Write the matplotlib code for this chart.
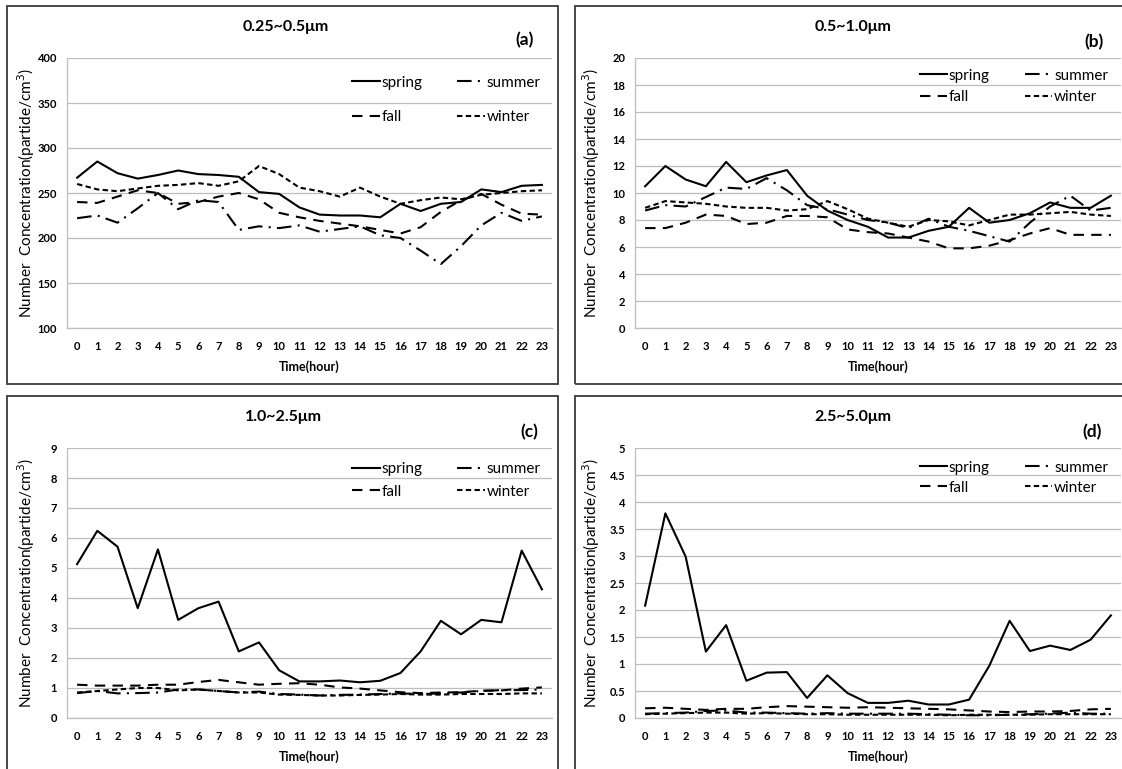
"""Diurnal number concentration by season, four particle size bins."""
import matplotlib
matplotlib.use('Agg')
import matplotlib.pyplot as plt
from matplotlib.patches import Rectangle

plt.rcParams['font.family'] = ['Lato', 'DejaVu Sans']

W, H = 1122, 769

hours = list(range(24))
seasons = ["spring", "summer", "fall", "winter"]

# (a) 0.25~0.5um
a_spring = [267, 285, 272, 266, 270, 275, 271, 270, 268, 251, 249, 234, 226, 225, 225, 223, 238, 230, 238, 240, 254, 251, 258, 259]
a_summer = [222, 225, 217, 233, 250, 232, 242, 240, 209, 213, 211, 214, 207, 210, 213, 203, 200, 186, 171, 191, 214, 228, 219, 224]
a_fall = [240, 239, 246, 253, 250, 238, 240, 246, 250, 243, 228, 223, 219, 216, 213, 209, 205, 212, 229, 242, 249, 237, 227, 226]
a_winter = [260, 254, 252, 255, 258, 259, 261, 258, 263, 280, 271, 256, 252, 246, 256, 246, 238, 242, 245, 243, 248, 250, 252, 253]

# (b) 0.5~1.0um
b_spring = [10.5, 12.0, 11.0, 10.5, 12.3, 10.8, 11.3, 11.7, 9.8, 8.7, 8.0, 7.5, 6.7, 6.7, 7.2, 7.5, 8.9, 7.8, 8.0, 8.5, 9.3, 8.9, 8.9, 9.8]
b_summer = [8.7, 9.1, 9.0, 9.7, 10.4, 10.3, 11.1, 10.2, 9.1, 8.8, 8.4, 8.0, 7.8, 7.4, 8.1, 7.5, 7.2, 6.8, 6.4, 7.8, 9.0, 9.8, 8.7, 8.9]
b_fall = [7.4, 7.4, 7.8, 8.4, 8.3, 7.7, 7.8, 8.3, 8.3, 8.2, 7.3, 7.1, 7.0, 6.7, 6.4, 5.9, 5.9, 6.1, 6.5, 7.0, 7.4, 6.9, 6.9, 6.9]
b_winter = [8.9, 9.4, 9.3, 9.2, 9.0, 8.9, 8.9, 8.7, 8.8, 9.4, 8.8, 8.1, 7.8, 7.5, 8.0, 7.9, 7.6, 8.0, 8.4, 8.4, 8.5, 8.6, 8.4, 8.3]

# (c) 1.0~2.5um
c_spring = [5.13, 6.24, 5.71, 3.66, 5.62, 3.27, 3.66, 3.88, 2.22, 2.52, 1.59, 1.22, 1.22, 1.25, 1.19, 1.24, 1.50, 2.22, 3.24, 2.79, 3.27, 3.19, 5.58, 4.29]
c_summer = [0.83, 0.90, 0.82, 0.83, 0.85, 0.95, 0.95, 0.90, 0.85, 0.88, 0.80, 0.78, 0.75, 0.77, 0.78, 0.80, 0.82, 0.80, 0.82, 0.85, 0.90, 0.93, 0.93, 0.95]
c_fall = [1.11, 1.08, 1.08, 1.08, 1.11, 1.11, 1.20, 1.27, 1.19, 1.11, 1.14, 1.16, 1.11, 1.02, 0.98, 0.92, 0.86, 0.83, 0.85, 0.86, 0.91, 0.92, 0.98, 1.02]
c_winter = [0.85, 0.90, 0.95, 1.00, 1.00, 0.92, 0.95, 0.90, 0.85, 0.85, 0.78, 0.77, 0.75, 0.75, 0.77, 0.78, 0.80, 0.78, 0.78, 0.80, 0.80, 0.80, 0.82, 0.82]

# (d) 2.5~5.0um
d_spring = [2.08, 3.79, 2.99, 1.23, 1.72, 0.69, 0.84, 0.85, 0.37, 0.79, 0.46, 0.28, 0.28, 0.32, 0.25, 0.25, 0.34, 0.97, 1.80, 1.24, 1.34, 1.26, 1.45, 1.90]
d_summer = [0.08, 0.09, 0.10, 0.13, 0.14, 0.10, 0.10, 0.09, 0.08, 0.09, 0.08, 0.08, 0.08, 0.08, 0.07, 0.06, 0.05, 0.05, 0.06, 0.07, 0.08, 0.10, 0.08, 0.08]
d_fall = [0.18, 0.19, 0.17, 0.15, 0.17, 0.17, 0.20, 0.22, 0.21, 0.20, 0.19, 0.20, 0.19, 0.18, 0.17, 0.16, 0.14, 0.12, 0.11, 0.12, 0.12, 0.13, 0.16, 0.17]
d_winter = [0.07, 0.08, 0.09, 0.10, 0.10, 0.08, 0.09, 0.08, 0.07, 0.07, 0.06, 0.06, 0.06, 0.06, 0.06, 0.05, 0.06, 0.06, 0.06, 0.06, 0.07, 0.07, 0.07, 0.07]

titles = ["0.25~0.5μm", "0.5~1.0μm", "1.0~2.5μm", "2.5~5.0μm"]
tags = ["(a)", "(b)", "(c)", "(d)"]
yticks = [
    [100, 150, 200, 250, 300, 350, 400],
    [0, 2, 4, 6, 8, 10, 12, 14, 16, 18, 20],
    [0, 1, 2, 3, 4, 5, 6, 7, 8, 9],
    [0, 0.5, 1, 1.5, 2, 2.5, 3, 3.5, 4, 4.5, 5],
]
data = [
    [a_spring, a_summer, a_fall, a_winter],
    [b_spring, b_summer, b_fall, b_winter],
    [c_spring, c_summer, c_fall, c_winter],
    [d_spring, d_summer, d_fall, d_winter],
]

styles = ["-", (0, (7, 3, 1, 3)), (0, (5, 3.5)), (0, (2.6, 1.6))]


def box(l, t, r, b):
    return [l / W, 1 - b / H, (r - l) / W, (b - t) / H]


# pixel layout: plot areas, outer frames, title/tag positions
axes_px = [(67, 58, 552, 328), (635, 58, 1121, 328), (67, 448, 552, 718), (635, 448, 1121, 718)]
frames_px = [(7, 6, 558, 384), (575, 6, 1130, 384), (7, 396, 558, 780), (575, 396, 1130, 780)]
title_px = [(286, 27), (853, 27), (283, 417), (853, 417)]
tag_px = [(525, 40), (1094, 42), (529, 432), (1092, 432)]
legend_pos = [(0.588, 0.935, 1.35), (0.586, 0.96, 0.5), (0.588, 0.947, 0.55), (0.586, 0.953, 0.4)]
ylabel_x = [37, 602, 37, 602]

fig = plt.figure(figsize=(W / 100, H / 100), dpi=100)

for i in range(4):
    l, t, r, b = frames_px[i]
    fig.patches.append(Rectangle((l / W, 1 - b / H), (r - l) / W, (b - t) / H,
                                 transform=fig.transFigure, fill=False,
                                 edgecolor="#3a3a3a", lw=1.3))

    ax = fig.add_axes(box(*axes_px[i]))
    lines = []
    for j, name in enumerate(seasons):
        ln, = ax.plot(hours, data[i][j], color="black", lw=1.5, ls=styles[j], label=name)
        lines.append(ln)

    ax.set_xlim(-0.5, 23.5)
    ax.set_ylim(yticks[i][0], yticks[i][-1])
    ax.set_yticks(yticks[i])
    ax.set_yticklabels([f"{v:g}" for v in yticks[i]])
    ax.set_xticks(hours)
    ax.tick_params(length=0, labelsize=8, pad=7)
    ax.tick_params(axis="x", pad=9)
    for lab in ax.get_xticklabels() + ax.get_yticklabels():
        lab.set_fontweight("bold")
    ax.grid(axis="y", color="#bdbdbd", lw=0.9)
    ax.set_axisbelow(True)
    for s in ["top", "right"]:
        ax.spines[s].set_visible(False)
    for s in ["left", "bottom"]:
        ax.spines[s].set_color("#bdbdbd")
        ax.spines[s].set_linewidth(0.9)

    ax.set_xlabel("Time(hour)", fontsize=9, fontweight="bold", labelpad=6)
    ax.set_ylabel("Number  Concentration(partide/cm$^3$)", fontsize=11)
    l, t, r, b = axes_px[i]
    ax.yaxis.set_label_coords((ylabel_x[i] - l) / (r - l), 0.5)

    # row-wise legend: spring, summer / fall, winter
    lx, ly, lsp = legend_pos[i]
    order = [0, 2, 1, 3]
    ax.legend([lines[k] for k in order], [seasons[k] for k in order],
              loc="upper left", bbox_to_anchor=(lx, ly), ncol=2, frameon=False,
              fontsize=11, handlelength=1.8, handletextpad=0.1,
              columnspacing=2.3, labelspacing=lsp, borderpad=0, borderaxespad=0)

    tx, ty = title_px[i]
    fig.text(tx / W, 1 - ty / H, titles[i], ha="center", va="center",
             fontsize=11.5, fontweight="bold")
    gx, gy = tag_px[i]
    fig.text(gx / W, 1 - gy / H, tags[i], ha="center", va="center",
             fontsize=12.5, fontweight="bold")

plt.savefig("out.png", dpi=100)
